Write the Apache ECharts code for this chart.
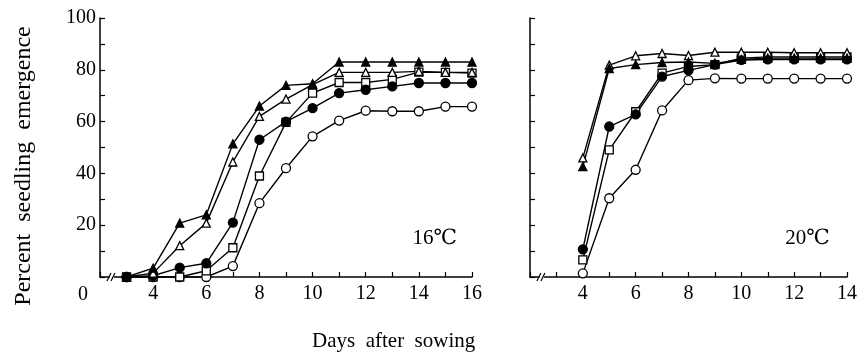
<!DOCTYPE html>
<html>
<head>
<meta charset="utf-8">
<script src="https://cdn.jsdelivr.net/npm/echarts@6/dist/echarts.min.js"></script>
<style>
  html, body { margin: 0; padding: 0; background: #fff; }
  #chart { width: 860px; height: 358px; }
</style>
</head>
<body>
<div id="chart"></div>
<script>
    // 天数
    var days16 = [3, 4, 5, 6, 7, 8, 9, 10, 11, 12, 13, 14, 15, 16];
    var days20 = [4, 5, 6, 7, 8, 9, 10, 11, 12, 13, 14];

    // 16℃ 出苗率
    var fTri16 = [0, 3.4, 20.8, 24, 51.4, 66, 74, 74.6, 83, 83, 83, 83, 83, 83];
    var oTri16 = [0, 1.5, 12.1, 20.8, 44.4, 62, 68.7, 74.3, 79, 79, 79, 79.4, 79, 79];
    var fCir16 = [0, 0.5, 3.6, 5.3, 21, 53, 60, 65.2, 71, 72.3, 73.6, 74.9, 74.9, 74.9];
    var oSqr16 = [0, 0, 0, 2.4, 11.3, 39, 59.7, 71, 75.1, 75.1, 76.3, 79.1, 79, 78.7];
    var oCir16 = [0, 0, 0, 0, 4.2, 28.5, 42, 54.3, 60.4, 64.2, 64, 64, 65.8, 65.8];

    // 20℃ 出苗率
    var oTri20 = [46, 81.8, 85.4, 86.3, 85.5, 86.8, 86.8, 86.8, 86.6, 86.6, 86.6];
    var fTri20 = [42.6, 80.5, 82, 82.8, 83, 82.5, 84, 84.5, 84.5, 84.5, 84.5];
    var fCir20 = [10.7, 58.1, 62.8, 77.4, 79.8, 82, 83.8, 84, 84, 84, 84];
    var oSqr20 = [6.6, 49.1, 63.8, 78.7, 81.3, 82, 84.5, 85, 85, 85, 85];
    var oCir20 = [1.4, 30.4, 41.4, 64.3, 76, 76.7, 76.6, 76.6, 76.6, 76.6, 76.6];

    var yTicks = [20, 40, 60, 80, 100];

    var font = '"Liberation Serif", "DejaVu Serif", serif';

    function pairs(xs, ys) {
        var out = [];
        for (var i = 0; i < xs.length; i++) {
            out.push([xs[i], ys[i]]);
        }
        return out;
    }

    function makeSeries(idx, data, symbol, filled, size) {
        return {
            type: 'line',
            xAxisIndex: idx,
            yAxisIndex: idx,
            data: data,
            symbol: symbol,
            symbolSize: size,
            showAllSymbol: true,
            animation: false,
            lineStyle: { color: '#000', width: 1.4 },
            itemStyle: {
                color: filled ? '#000' : '#fff',
                borderColor: '#000',
                borderWidth: 1.3
            }
        };
    }

    function xAxisOf(idx, max) {
        return {
            type: 'value',
            gridIndex: idx,
            min: 2,
            max: max,
            interval: 1,
            axisLine: { lineStyle: { color: '#000', width: 1.5 } },
            axisTick: { inside: true, length: 5, lineStyle: { color: '#000', width: 1.2 } },
            axisLabel: {
                margin: 7,
                color: '#000',
                fontFamily: font,
                fontSize: 20,
                formatter: function (v) {
                    return (v >= 4 && v % 2 === 0) ? String(v) : '';
                }
            },
            splitLine: { show: false }
        };
    }

    function yAxisOf(idx, showLabel) {
        return {
            type: 'value',
            gridIndex: idx,
            min: 0,
            max: 100,
            interval: 10,
            axisLine: { show: true, lineStyle: { color: '#000', width: 1.5 } },
            axisTick: { show: true, inside: true, length: 5, lineStyle: { color: '#000', width: 1.2 } },
            axisLabel: {
                show: showLabel,
                margin: 4,
                color: '#000',
                fontFamily: font,
                fontSize: 20,
                formatter: function (v) {
                    return yTicks.indexOf(v) >= 0 ? String(v) : '';
                }
            },
            splitLine: { show: false }
        };
    }

    var chart = echarts.init(document.getElementById('chart'));

    chart.setOption({
        backgroundColor: '#fff',
        animation: false,
        grid: [
            { left: 100, top: 18, width: 372, height: 259 },
            { left: 530, top: 18, width: 318, height: 259 }
        ],
        xAxis: [xAxisOf(0, 16), xAxisOf(1, 14)],
        yAxis: [yAxisOf(0, true), yAxisOf(1, false)],
        series: [
            makeSeries(0, pairs(days16, oCir16), 'circle', false, 9),
            makeSeries(0, pairs(days16, oSqr16), 'rect', false, 8),
            makeSeries(0, pairs(days16, fCir16), 'circle', true, 9),
            makeSeries(0, pairs(days16, oTri16), 'triangle', false, 8),
            makeSeries(0, pairs(days16, fTri16), 'triangle', true, 8),
            makeSeries(1, pairs(days20, oCir20), 'circle', false, 9),
            makeSeries(1, pairs(days20, oSqr20), 'rect', false, 8),
            makeSeries(1, pairs(days20, fCir20), 'circle', true, 9),
            makeSeries(1, pairs(days20, oTri20), 'triangle', false, 8),
            makeSeries(1, pairs(days20, fTri20), 'triangle', true, 8)
        ]
    });

    // 断轴标记、文字
    function breakMark(idx) {
        var p = chart.convertToPixel({ gridIndex: idx }, [2.45, 0]);
        return [
            { type: 'rect', shape: { x: p[0] - 2, y: p[1] - 2, width: 4, height: 4 }, style: { fill: '#fff' }, z: 100 },
            { type: 'line', shape: { x1: p[0] - 5, y1: p[1] + 4, x2: p[0] - 1, y2: p[1] - 4 }, style: { stroke: '#000', lineWidth: 1.2 }, z: 101 },
            { type: 'line', shape: { x1: p[0] - 1, y1: p[1] + 4, x2: p[0] + 3, y2: p[1] - 4 }, style: { stroke: '#000', lineWidth: 1.2 }, z: 101 }
        ];
    }

    var origin = chart.convertToPixel({ gridIndex: 0 }, [2, 0]);
    var t16 = chart.convertToPixel({ gridIndex: 0 }, [14.6, 15]);
    var t20 = chart.convertToPixel({ gridIndex: 1 }, [12.5, 15]);

    var texts = [
        { type: 'text', x: origin[0] - 17, y: origin[1] + 18, style: { text: '0', font: '20px ' + font, fill: '#000', align: 'center', verticalAlign: 'middle' } },
        { type: 'text', x: t16[0], y: t16[1], style: { text: '16℃', font: '21px ' + font, fill: '#000', align: 'center', verticalAlign: 'middle' } },
        { type: 'text', x: t20[0], y: t20[1], style: { text: '20℃', font: '21px ' + font, fill: '#000', align: 'center', verticalAlign: 'middle' } },
        { type: 'text', x: 312, y: 341, style: { text: 'Days  after  sowing', font: '21px ' + font, fill: '#000', align: 'left', verticalAlign: 'middle' } },
        { type: 'text', x: 24, y: 166, rotation: Math.PI / 2, style: { text: 'Percent  seedling  emergence', font: '24px ' + font, fill: '#000', align: 'center', verticalAlign: 'middle' } }
    ];

    chart.setOption({
        graphic: breakMark(0).concat(breakMark(1)).concat(texts)
    });
</script>
</body>
</html>
